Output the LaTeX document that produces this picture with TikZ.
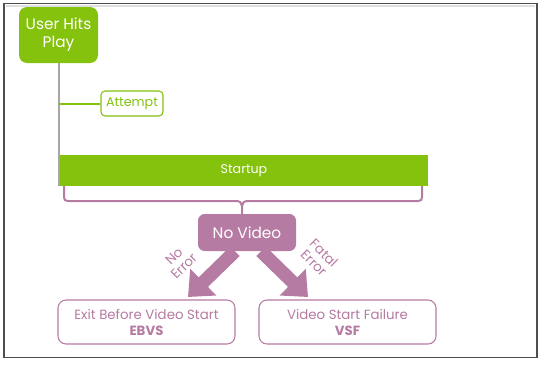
\documentclass[tikz,border=0pt]{standalone}
\usepackage{fontspec}
\setmainfont{Poppins}
\usetikzlibrary{arrows.meta}
\definecolor{grn}{HTML}{84C20E}
\definecolor{prp}{HTML}{B67BA3}
\definecolor{frm}{HTML}{4E4E4E}
\definecolor{gline}{HTML}{A6A6A6}
\begin{document}
\begin{tikzpicture}[x=0.75pt,y=-0.75pt,
  greenbox/.style={draw=none,fill=grn,text=white,rounded corners=6pt,align=center,inner sep=0pt},
  greentag/.style={draw=grn,fill=white,text=grn,rounded corners=3pt,inner sep=0pt,line width=0.8pt},
  purplebox/.style={draw=none,fill=prp,text=white,rounded corners=5pt,inner sep=0pt},
  resultbox/.style={draw=prp,fill=white,text=prp,rounded corners=6pt,align=center,inner sep=0pt,line width=0.8pt},
  lbl/.style={text=prp,align=center,font=\fontsize{10}{10.5}\selectfont,inner sep=0pt},
  bigarrow/.style={draw=prp,line width=10pt,-{Triangle[width=27pt,length=16pt]}}]
\useasboundingbox (0,0) rectangle (545,364);
% frame
\draw[gray!25,line width=2pt] (6,6) -- (535,6);
\draw[frm,line width=1.4pt] (4,3.5) rectangle (537,357.5);
% start node
\node[greenbox,minimum width=79*0.75pt,minimum height=56*0.75pt,font=\fontsize{11.5}{13.5}\selectfont] (play) at (58.5,35) {User Hits\\Play};
% startup bar
\node[fill=grn,text=white,minimum width=368*0.75pt,minimum height=31*0.75pt,inner sep=0pt,font=\fontsize{9.5}{10}\selectfont] (startup) at (244,170.5) {Startup};
\coordinate (lineend) at (59,186);
\draw[gline,line width=1.5pt] (play.south -| lineend) -- (lineend);
% attempt
\node[greentag,minimum width=62*0.75pt,minimum height=25*0.75pt,font=\fontsize{9.5}{10}\selectfont] (attempt) at (132,103.5) {Attempt};
\draw[grn,line width=1.5pt] (attempt.west -| lineend) -- (attempt.west);
% brace
\node[purplebox,minimum width=98*0.75pt,minimum height=37*0.75pt,font=\fontsize{11.5}{13}\selectfont] (nv) at (247,232.5) {No Video};
\draw[prp,line width=1.5pt] (64,186) -- (64,197) .. controls (64,200) and (65,201) .. (68,201) -- (236,201) .. controls (240,201) and (242,203) .. (242,206) -- (242,214);
\draw[prp,line width=1.5pt] (422,186) -- (422,197) .. controls (422,200) and (421,201) .. (418,201) -- (248,201) .. controls (244,201) and (242,203) .. (242,206);
% results
\node[resultbox,minimum width=177*0.75pt,minimum height=44*0.75pt,font=\fontsize{10}{12}\selectfont] (ebvs) at (146.5,322) {Exit Before Video Start\\\textbf{EBVS}};
\node[resultbox,minimum width=177*0.75pt,minimum height=44*0.75pt,font=\fontsize{10}{12}\selectfont] (vsf) at (347.5,322) {Video Start Failure\\\textbf{VSF}};
% arrows
\coordinate (ltip) at (188,297);
\coordinate (rtip) at (308,297);
\draw[bigarrow] ([xshift=-12*0.75pt]nv.south) -- (ltip);
\draw[bigarrow] ([xshift=14*0.75pt]nv.south) -- (rtip);
\node[lbl,rotate=45] (noerr) at (179,261) {No\\Error};
\node[lbl,rotate=-45] (fatal) at (319,258) {Fatal\\Error};
\end{tikzpicture}
\end{document}
